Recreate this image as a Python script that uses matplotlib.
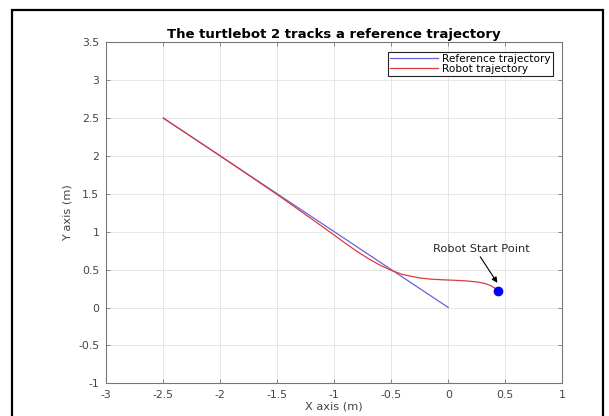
import matplotlib
matplotlib.use("Agg")
import matplotlib.pyplot as plt
import matplotlib.patches as patches
import numpy as np

plt.rcParams["font.family"] = ["DejaVu Sans"]

# 参考轨迹
ref_x = [-2.5, 0.0]
ref_y = [2.5, 0.0]

# 机器人轨迹 (从起点到终点)
robot_x = [0.44, 0.41, 0.37, 0.32, 0.25, 0.15, 0.05, -0.05, -0.15, -0.25,
           -0.40, -0.50, -0.60, -0.70, -0.80, -0.90, -1.00, -1.20, -1.50, -2.00, -2.50]
robot_y = [0.22, 0.255, 0.29, 0.318, 0.338, 0.352, 0.36, 0.366, 0.374, 0.39,
           0.435, 0.49, 0.56, 0.645, 0.74, 0.845, 0.955, 1.17, 1.49, 2.0, 2.5]

start_x = [0.44]
start_y = [0.217]

x_ticks = [-3, -2.5, -2, -1.5, -1, -0.5, 0, 0.5, 1]
y_ticks = [-1, -0.5, 0, 0.5, 1, 1.5, 2, 2.5, 3, 3.5]
tick_labels_x = ["-3", "-2.5", "-2", "-1.5", "-1", "-0.5", "0", "0.5", "1"]
tick_labels_y = ["-1", "-0.5", "0", "0.5", "1", "1.5", "2", "2.5", "3", "3.5"]

fig = plt.figure(figsize=(6.09, 4.16), dpi=100)
ax = fig.add_axes([0.1746, 0.0786, 0.7487, 0.8197])

ax.plot(ref_x, ref_y, color="#6464dc", lw=0.9, label="Reference trajectory")
ax.plot(robot_x, robot_y, color="#dc3c3c", lw=0.9, label="Robot trajectory")
ax.plot(start_x, start_y, "o", color="#0000ff", markersize=6, zorder=5)

ax.text(0.29, 0.77, "Robot Start Point", ha="center", va="center",
        fontsize=8.2, color="#262626")
ax.annotate("", xy=(0.43, 0.326), xytext=(0.28, 0.67),
            arrowprops=dict(arrowstyle="-|>", color="k", lw=0.8,
                            mutation_scale=8, shrinkA=0, shrinkB=0))

ax.set_xlim(-3, 1)
ax.set_ylim(-1, 3.5)
ax.set_xticks(x_ticks)
ax.set_xticklabels(tick_labels_x)
ax.set_yticks(y_ticks)
ax.set_yticklabels(tick_labels_y)
ax.grid(True, color="#e2e2e2", lw=0.6)
ax.set_axisbelow(True)

ax.tick_params(direction="in", length=3, width=0.6, colors="#777777",
               labelcolor="#444444", labelsize=7.8, top=True, right=True, pad=5)
for sp in ax.spines.values():
    sp.set_color("#777777")
    sp.set_linewidth(0.8)

ax.set_title("The turtlebot 2 tracks a reference trajectory",
             fontsize=9.5, weight="bold", pad=3)
ax.set_xlabel("X axis (m)", fontsize=8.2, color="#444444", labelpad=1)
ax.set_ylabel("Y axis (m)", fontsize=8.2, color="#444444", labelpad=4)

leg = ax.legend(loc="upper right", fontsize=7.6, fancybox=False, framealpha=1,
                edgecolor="#222222", handlelength=4.6, handletextpad=0.35,
                borderpad=0.2, labelspacing=0.0, borderaxespad=0.9)
leg.get_frame().set_linewidth(0.8)

# 图片外框
frame = patches.Rectangle((0.0205, -0.05), 0.9696, 1.0248, transform=fig.transFigure,
                          fill=False, edgecolor="k", lw=1.6)
fig.add_artist(frame)

plt.savefig("out.png", dpi=100)
